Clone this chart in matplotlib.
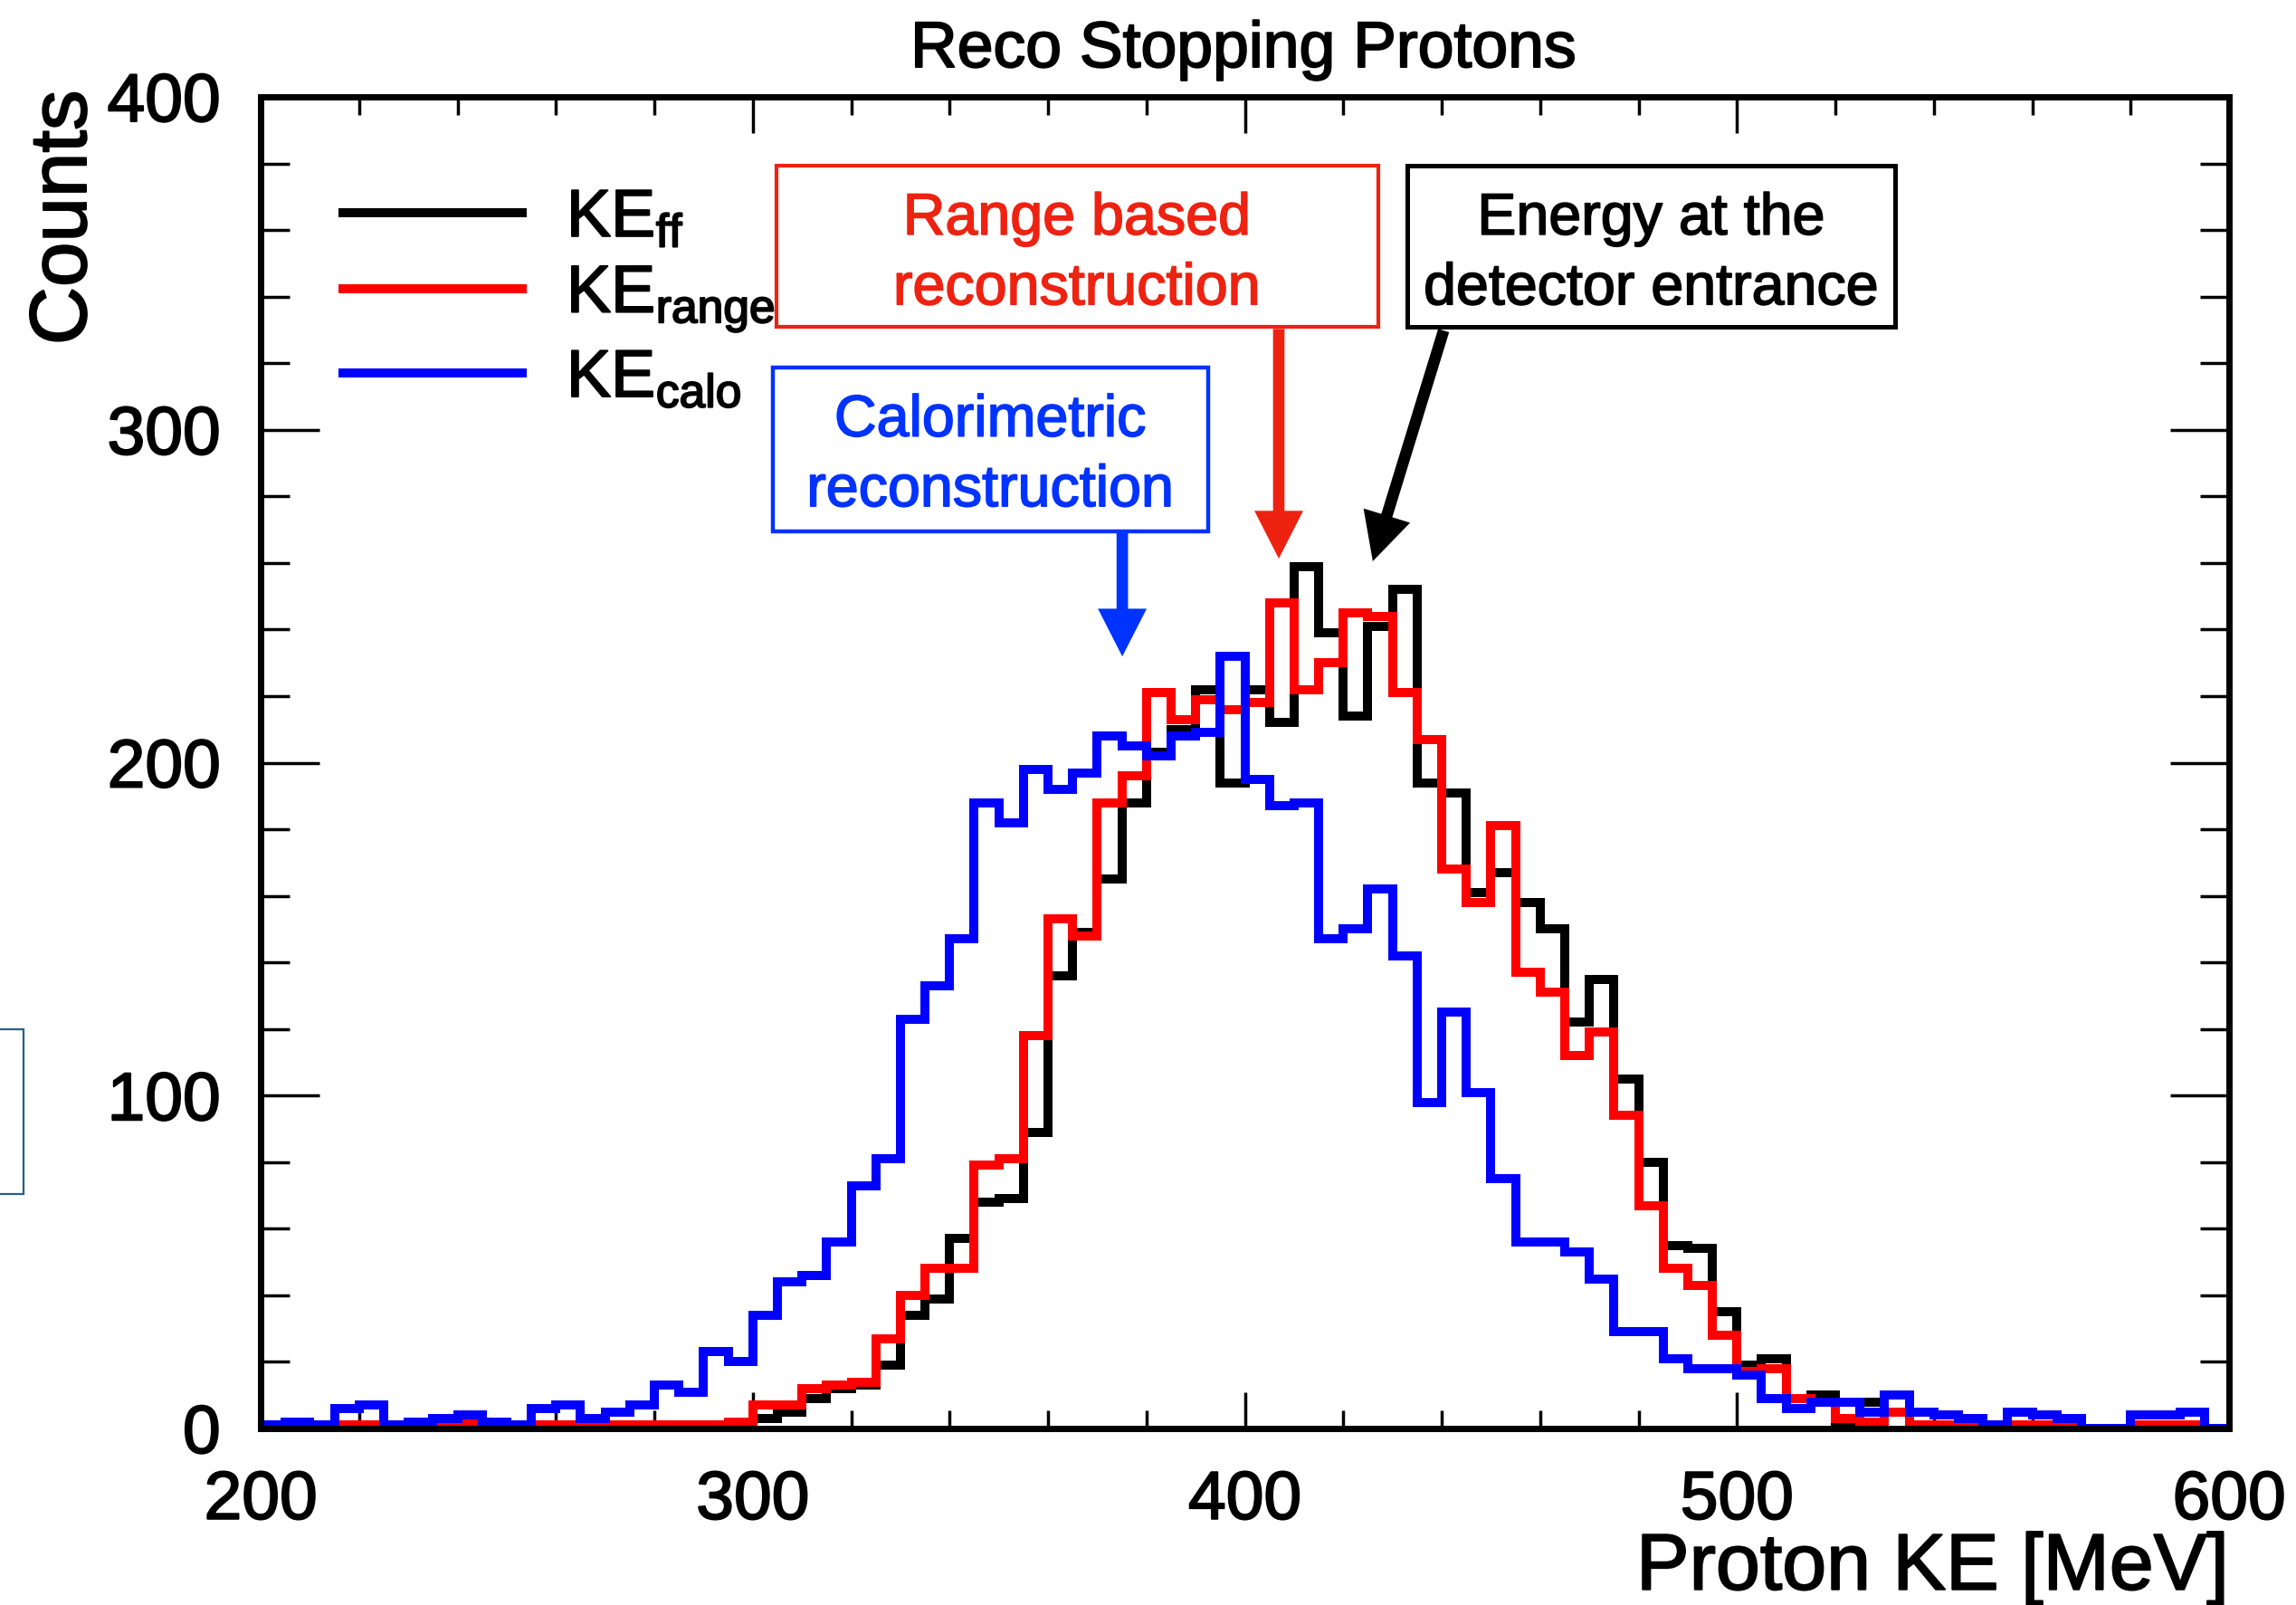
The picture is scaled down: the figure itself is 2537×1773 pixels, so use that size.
import numpy as np
import matplotlib
matplotlib.use('Agg')
import matplotlib.pyplot as plt
import matplotlib.patheffects as pe
from matplotlib.ticker import MultipleLocator
from matplotlib.patches import Rectangle, ArrowStyle
from matplotlib.lines import Line2D

plt.rcParams['font.family'] = ['Liberation Sans', 'DejaVu Sans']
plt.rcParams['mathtext.fontset'] = 'custom'
plt.rcParams['mathtext.rm'] = 'Liberation Sans'
plt.rcParams['mathtext.it'] = 'Liberation Sans:italic'

DPI = 100
W, H = 2537, 1773

# 5 MeV bins, 200 - 600 MeV
bin_edges = np.arange(200, 605, 5)

# energy at the detector entrance (black)
ke_ff = [0, 0, 0, 0, 0, 0, 0, 0, 0, 0,
         0, 0, 0, 0, 0, 0, 0, 0, 0, 0,
         3, 5, 9, 12, 13, 19, 34, 39, 57, 68,
         69, 89, 136, 149, 165, 188, 203, 210, 222, 194,
         222, 212, 259, 239, 214, 241, 252, 194, 191, 161,
         167, 158, 150, 122, 135, 105, 80, 55, 54, 35,
         19, 21, 9, 10, 1, 8, 5, 0, 0, 0,
         0, 0, 0, 0, 0, 0, 0, 0, 0, 0]

# range based reconstruction (red)
ke_range = [0, 0, 0, 1, 1, 0, 0, 1, 2, 0,
            0, 1, 1, 1, 1, 1, 1, 1, 1, 2,
            7, 7, 12, 13, 14, 27, 40, 48, 48, 79,
            81, 118, 153, 148, 188, 196, 221, 213, 219, 216,
            218, 248, 222, 230, 245, 244, 221, 207, 168, 158,
            181, 137, 131, 112, 119, 94, 67, 48, 43, 28,
            17, 18, 9, 8, 3, 2, 5, 1, 1, 1,
            0, 1, 1, 1, 0, 0, 1, 1, 1, 0]

# calorimetric reconstruction (blue)
ke_calo = [1, 2, 1, 6, 7, 1, 2, 3, 4, 2,
           1, 6, 7, 3, 5, 7, 13, 11, 23, 20,
           34, 44, 46, 56, 73, 81, 123, 133, 147, 188,
           182, 198, 192, 197, 208, 205, 202, 208, 209, 232,
           195, 187, 188, 147, 150, 162, 142, 98, 125, 101,
           75, 56, 56, 53, 45, 29, 29, 21, 18, 18,
           16, 9, 6, 8, 8, 5, 10, 5, 4, 3,
           1, 5, 4, 3, 0, 0, 4, 4, 5, 0]

series_labels = [r'KE$_{\mathrm{ff}}$', r'KE$_{\mathrm{range}}$', r'KE$_{\mathrm{calo}}$']
hist_colors = ['black', '#ff0000', '#0000ff']
ann_red = '#ee2211'
ann_blue = '#0033ff'


def heavy(col='black', w=1.4):
    # thicken glyphs a little, the original text is rendered heavier
    return [pe.withStroke(linewidth=w, foreground=col)]


fig = plt.figure(figsize=(W / DPI, H / DPI), dpi=DPI)
ax = fig.add_axes([288 / W, 195 / H, 2175 / W, 1471 / H])

LW = 7.2
for z, (vals, col) in enumerate(zip([ke_ff, ke_range, ke_calo], hist_colors)):
    ax.stairs(vals, bin_edges, color=col, lw=LW, zorder=2 + z)

ax.set_xlim(200, 600)
ax.set_ylim(0, 400)

ax.xaxis.set_major_locator(MultipleLocator(100))
ax.xaxis.set_minor_locator(MultipleLocator(20))
ax.yaxis.set_major_locator(MultipleLocator(100))
ax.yaxis.set_minor_locator(MultipleLocator(20))
ax.tick_params(which='both', direction='in', top=True, right=True, width=2.5,
               labelsize=54)
ax.tick_params(axis='x', which='major', length=29, pad=33)
ax.tick_params(axis='x', which='minor', length=14.5)
ax.tick_params(axis='y', which='major', length=47, pad=32)
ax.tick_params(axis='y', which='minor', length=23)
for sp in ax.spines.values():
    sp.set_linewidth(5)
    sp.set_zorder(10)
for lab in ax.get_xticklabels() + ax.get_yticklabels():
    lab.set_path_effects(heavy())

ax.set_xlabel('Proton KE [MeV]', fontsize=63.3, loc='right', path_effects=heavy())
ax.xaxis.set_label_coords(1.0, -0.078)
ax.set_ylabel('Counts', fontsize=64, loc='top', path_effects=heavy())
ax.yaxis.set_label_coords(-0.080, 1.005)

fig.text(1374 / W, 1 - 74 / H, 'Reco Stopping Protons', ha='center',
         va='baseline', fontsize=51.5, path_effects=heavy())

# legend
handles = [Line2D([], [], color=c, lw=LW) for c in hist_colors]
leg = ax.legend(handles, series_labels, loc='upper left', bbox_to_anchor=(0.042, 0.932),
                frameon=False, fontsize=53, handlelength=2.69, handletextpad=0.66,
                labelspacing=0.2, borderpad=0, borderaxespad=0)
for t in leg.get_texts():
    t.set_path_effects(heavy())

# annotation boxes
TXT = dict(ha='center', va='center', fontsize=46.5, linespacing=1.37, zorder=6)
ax.add_patch(Rectangle((304.8, 330.9), 122.3, 48.4, fill=False, ec=ann_red, lw=3, zorder=6))
ax.text(365.9, 352.8, 'Range based\nreconstruction', color=ann_red,
        path_effects=heavy(ann_red, 1.2), **TXT)
ax.add_patch(Rectangle((433.0, 330.9), 99.1, 48.4, fill=False, ec='black', lw=3.6, zorder=6))
ax.text(482.6, 352.8, 'Energy at the\ndetector entrance', color='black',
        path_effects=heavy('black', 1.2), **TXT)
ax.add_patch(Rectangle((304.1, 269.4), 88.5, 49.3, fill=False, ec=ann_blue, lw=3.2, zorder=6))
ax.text(348.3, 292.2, 'Calorimetric\nreconstruction', color=ann_blue,
        path_effects=heavy(ann_blue, 1.2), **TXT)

arrow = ArrowStyle.Simple(head_length=1.0, head_width=1.02, tail_width=0.24)
for tip, start, col in [((406.9, 261.3), (406.9, 330.3), ann_red),
                        ((426.0, 260.5), (440.4, 329.8), 'black'),
                        ((375.1, 231.9), (375.1, 269.4), ann_blue)]:
    ax.annotate('', xy=tip, xytext=start,
                arrowprops=dict(arrowstyle=arrow, mutation_scale=38, lw=0,
                                color=col, shrinkA=0, shrinkB=0), zorder=6)

# cut-off box at the left edge of the slide
fig.patches.append(Rectangle((-0.01, (H - 1319) / H), 0.01 + 26 / W, 182 / H,
                             fill=False, ec='#24608c', lw=1.6,
                             transform=fig.transFigure, figure=fig))

fig.savefig('out.png', dpi=DPI)
